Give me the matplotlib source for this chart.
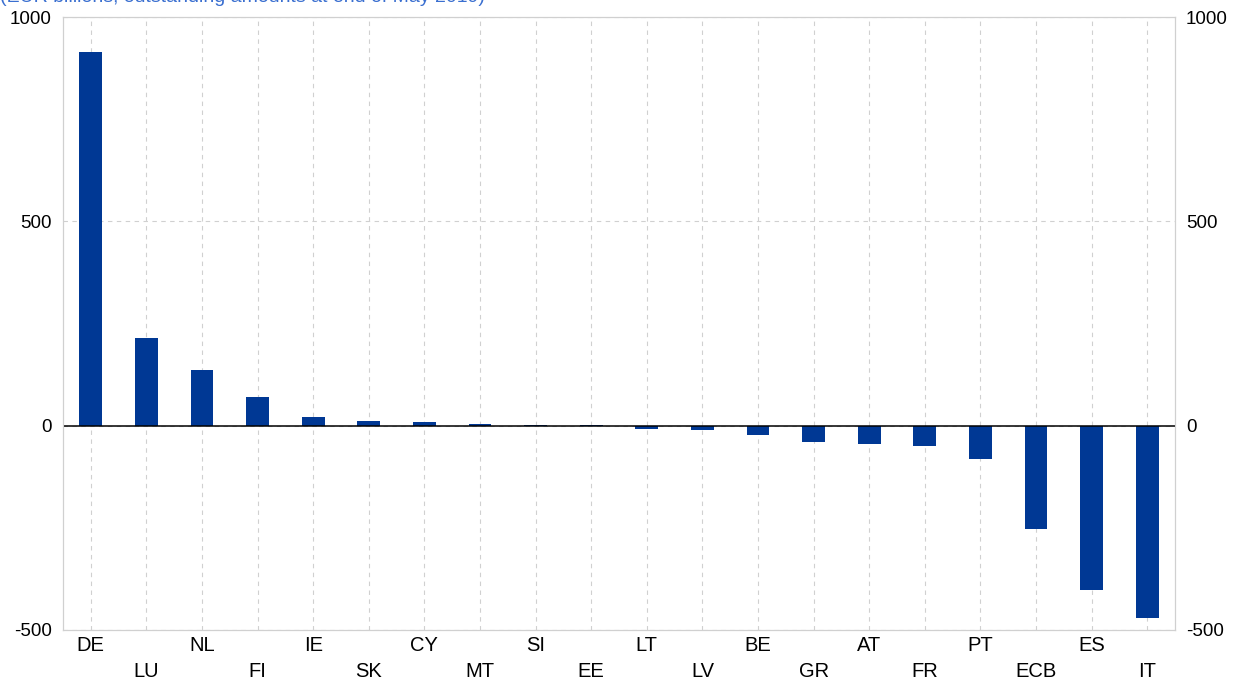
import matplotlib.pyplot as plt
import numpy as np

plt.rcParams['font.family'] = ['Liberation Sans', 'DejaVu Sans']

countries = ["DE", "LU", "NL", "FI", "IE", "SK", "CY", "MT", "SI", "EE",
             "LT", "LV", "BE", "GR", "AT", "FR", "PT", "ECB", "ES", "IT"]
balances = [914, 215, 137, 71, 20, 12, 9, 5, 1, 1,
            -8, -10, -22, -40, -44, -50, -82, -253, -402, -470]
yticks = [-500, 0, 500, 1000]

bar_color = '#003894'
grid_color = '#d0d0d0'

fig = plt.figure(figsize=(12.56, 6.82), dpi=100)
ax = fig.add_axes([63 / 1256, 52 / 682, 1112 / 1256, 613 / 682])

x = np.arange(len(countries))
ax.bar(x, balances, width=0.41, color=bar_color, zorder=3)
ax.axhline(0, color='black', linewidth=1.1, zorder=4)

ax.set_xlim(-0.5, len(countries) - 0.5)
ax.set_ylim(-500, 1000)
ax.set_yticks(yticks)
ax.set_yticklabels([str(v) for v in yticks], fontsize=13.5)
ax.tick_params(axis='y', length=0, pad=8)

ax.set_xticks(x)
ax.set_xticklabels([])
ax.tick_params(axis='x', length=0)
for i, name in enumerate(countries):
    offset = -4 if i % 2 == 0 else -23
    ax.annotate(name, xy=(i, -500), xytext=(0, offset), textcoords='offset points',
                ha='center', va='top', fontsize=14.5)

ax.grid(axis='both', color=grid_color, linestyle=(0, (4, 4)), linewidth=0.8, zorder=0)
for s in ax.spines.values():
    s.set_color(grid_color)

ax2 = ax.twinx()
ax2.set_ylim(ax.get_ylim())
ax2.set_yticks(yticks)
ax2.set_yticklabels([str(v) for v in yticks], fontsize=13.5)
ax2.tick_params(axis='y', length=0, pad=8)
for s in ax2.spines.values():
    s.set_color(grid_color)

fig.text(0.0, 1 - 2 / 682, "(EUR billions; outstanding amounts at end of May 2019)",
         color='#3a6fd0', fontsize=14, ha='left', va='baseline')

fig.savefig("out.png", dpi=100)
